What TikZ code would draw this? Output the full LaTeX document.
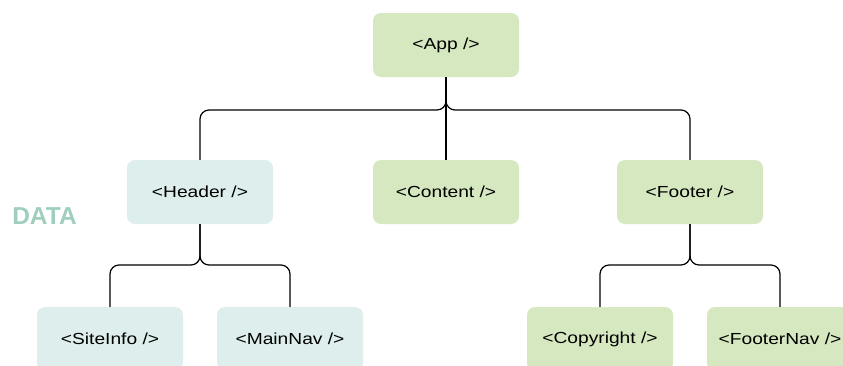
\documentclass[tikz,border=0pt]{standalone}
\usepackage{fontspec}
\setmainfont{Liberation Sans}
\newfontfamily\nodefont[FakeStretch=1.2]{Liberation Sans}
\definecolor{gfill}{HTML}{D5E8C0}
\definecolor{bfill}{HTML}{DDEEED}
\definecolor{datac}{HTML}{9FCFBC}
\begin{document}
\begin{tikzpicture}[x=1pt,y=-1pt,
  comp/.style={rectangle,rounded corners=8pt,minimum width=146pt,minimum height=64pt,inner sep=0pt,font=\nodefont\fontsize{16}{18}\selectfont},
  gbox/.style={comp,fill=gfill},
  bbox/.style={comp,fill=bfill},
  link/.style={draw=black,line width=1.2pt,rounded corners=9pt}]
\useasboundingbox (0,0) rectangle (843,365);
\begin{scope}
\clip (0,0) rectangle (843,365);
\node[gbox] (app) at (446,45) {<App />};
\node[bbox] (header) at (200,192) {<Header />};
\node[gbox] (content) at (446,192) {<Content />};
\node[gbox] (footer) at (690,192) {<Footer />};
\node[bbox] (siteinfo) at (110,339) {<SiteInfo />};
\node[bbox] (mainnav) at (290,339) {<MainNav />};
\node[gbox] (copyright) at (600,339) {<Copyright />};
\node[gbox] (footernav) at (780,339) {<FooterNav />};
\node[text=datac,font=\bfseries\fontsize{24.5}{27}\selectfont] (data) at (44.5,216) {DATA};
\coordinate (j1) at (446,110);
\coordinate (j2) at (200,265);
\coordinate (j3) at (690,265);
\draw[link] (app.south) |- (j1) -| (header.north);
\draw[link] (app.south) |- (j1) -| (footer.north);
\draw[link] (app.south) -- (content.north);
\draw[link] (header.south) |- (j2) -| (siteinfo.north);
\draw[link] (header.south) |- (j2) -| (mainnav.north);
\draw[link] (footer.south) |- (j3) -| (copyright.north);
\draw[link] (footer.south) |- (j3) -| (footernav.north);
\end{scope}
\end{tikzpicture}
\end{document}
